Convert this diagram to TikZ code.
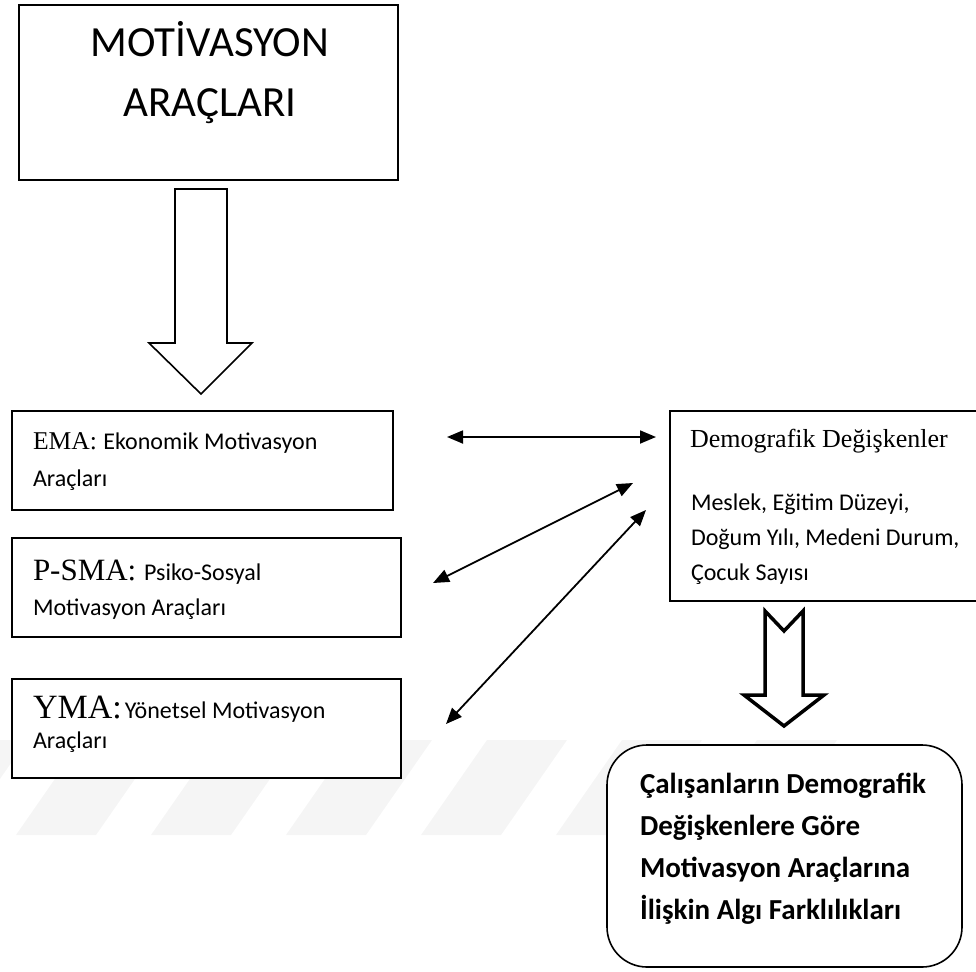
\documentclass[tikz,border=0pt]{standalone}
\usepackage{fontspec}
\setmainfont{Carlito}
\newfontfamily\serifT{Liberation Serif}
\usetikzlibrary{arrows.meta}
\tikzset{
  boxnode/.style={draw=black, fill=white, line width=1.6pt, inner sep=0pt},
  txt/.style={anchor=base west, inner sep=0pt, outer sep=0pt},
  dbl/.style={line width=1.8pt, {Triangle[length=16pt,width=13pt]}-{Triangle[length=16pt,width=13pt]}},
  hollow/.style={draw=black, fill=white, line join=miter},
  stripe/.style={fill=black!4, draw=none},
}
\newcommand{\sm}{\fontsize{24}{28}\selectfont}
\newcommand{\bigb}{\fontsize{29}{32}\bfseries\selectfont}
\begin{document}
\begin{tikzpicture}[x=1pt,y=-1pt]
\useasboundingbox (0,0) rectangle (976,971);
% watermark stripes
\foreach \k in {0,...,6}{
  \pgfmathsetmacro{\xa}{-53+135*\k}
  \fill[stripe] (\xa,740) -- (\xa+80,740) -- (\xa+80-66,835) -- (\xa-66,835) -- cycle;
}
% top box
\node[boxnode, minimum width=379pt, minimum height=175pt] (top) at (208.5,92.5) {};
\node[inner sep=0pt, anchor=base] (topA) at (210,57) {\fontsize{43}{43}\selectfont MOTİVASYON};
\node[inner sep=0pt, anchor=base] (topB) at (210,117) {\fontsize{43}{43}\selectfont ARAÇLARI};
% big hollow arrow
\draw[hollow, line width=1.6pt] (175,189) -- (227,189) -- (227,343) -- (252,343) -- (201,394) -- (149,343) -- (175,343) -- cycle;
% left boxes
\node[boxnode, minimum width=381pt, minimum height=99pt] (ema) at (202.5,460.5) {};
\node[txt] (emaA) at (33,449) {{\fontsize{25.6}{30}\serifT EMA: }\sm Ekonomik Motivasyon};
\node[txt] (emaB) at (33,486) {\sm Araçları};
\node[boxnode, minimum width=389pt, minimum height=99pt] (psma) at (206.5,587.5) {};
\node[txt] (psmaA) at (33,580) {{\fontsize{31}{34}\serifT P-SMA: }\sm Psiko-Sosyal};
\node[txt] (psmaB) at (33,615) {\sm Motivasyon Araçları};
\node[boxnode, minimum width=389pt, minimum height=99pt] (yma) at (206.5,728.5) {};
\node[txt] (ymaA) at (33,718) {{\fontsize{34}{36}\serifT YMA:}\hspace{3pt}\sm Yönetsel Motivasyon};
\node[txt] (ymaB) at (33,748) {\sm Araçları};
% demographic box
\node[boxnode, minimum width=308pt, minimum height=190pt] (demo) at (824,506) {};
\node[txt] (demoA) at (690,447) {\fontsize{26}{30}\serifT Demografik Değişkenler};
\node[txt] (demoB) at (691,510) {\sm Meslek, Eğitim Düzeyi,};
\node[txt] (demoC) at (691,545) {\sm Doğum Yılı, Medeni Durum,};
\node[txt] (demoD) at (691,580) {\sm Çocuk Sayısı};
% double arrows
\coordinate (h1) at (447,437);
\coordinate (h2) at (656,437);
\coordinate (p1) at (433,583);
\coordinate (p2) at (633,483);
\coordinate (y1) at (446,724);
\coordinate (y2) at (646,510);
\draw[dbl] (h1) -- (h2);
\draw[dbl] (p1) -- (p2);
\draw[dbl] (y1) -- (y2);
% notched hollow arrow
\draw[hollow, line width=3.5pt] (765,611) -- (784,631) -- (803,611) -- (803,695) -- (824,695) -- (784,726) -- (744,695) -- (765,695) -- cycle;
% result box
\node[boxnode, rounded corners=40pt, minimum width=355pt, minimum height=222pt] (res) at (784.5,856) {};
\node[txt] (resA) at (640,793) {\bigb Çalışanların Demografik};
\node[txt] (resB) at (640,835) {\bigb Değişkenlere Göre};
\node[txt] (resC) at (640,877) {\bigb Motivasyon Araçlarına};
\node[txt] (resD) at (640,919) {\bigb İlişkin Algı Farklılıkları};
\end{tikzpicture}
\end{document}
